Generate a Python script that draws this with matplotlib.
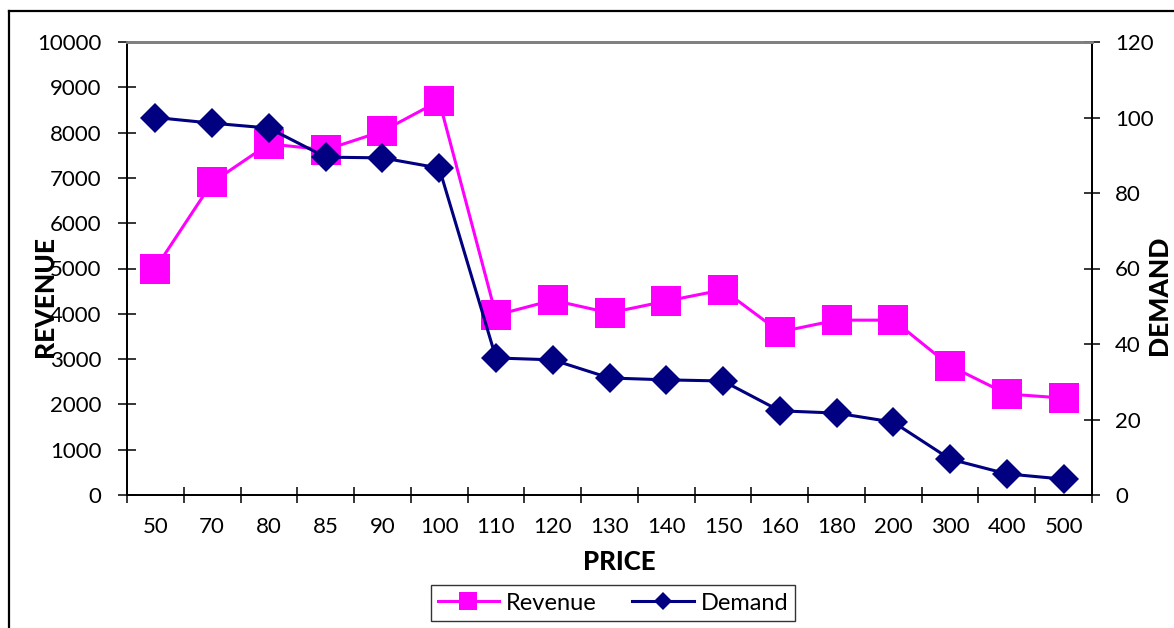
import matplotlib
matplotlib.use("Agg")
import matplotlib.pyplot as plt
from matplotlib.lines import Line2D
from matplotlib.ticker import FixedLocator, NullFormatter

plt.rcParams['font.family'] = ['Lato', 'DejaVu Sans']

prices = ["50", "70", "80", "85", "90", "100", "110", "120", "130", "140",
          "150", "160", "180", "200", "300", "400", "500"]
revenue = [5000, 6900, 7750, 7620, 8030, 8700, 3970, 4300, 4020, 4280,
           4530, 3600, 3860, 3860, 2850, 2230, 2140]
demand = [100, 98.5, 97.2, 89.5, 89.3, 86.6, 36.3, 35.8, 31, 30.5,
          30.2, 22.3, 21.7, 19.3, 9.5, 5.6, 4.2]

REV_COLOR = "#FF00FF"
DEM_COLOR = "#000080"

W, H = 1174, 628
fig = plt.figure(figsize=(W / 100, H / 100), dpi=100)

# outer chart frame (open at right and bottom)
fig.add_artist(Line2D([9 / W, 9 / W], [0, 1 - 11 / H], transform=fig.transFigure,
                      color="black", lw=1.6))
fig.add_artist(Line2D([9 / W, 1], [1 - 11 / H, 1 - 11 / H], transform=fig.transFigure,
                      color="black", lw=1.6))

left, right, bottom, top = 127 / W, 1092 / W, 1 - 495 / H, 1 - 42 / H
ax = fig.add_axes([left, bottom, right - left, top - bottom])
ax2 = ax.twinx()

x = list(range(len(prices)))
ax.plot(x, revenue, color=REV_COLOR, lw=2.2, marker="s", ms=21.5,
        markeredgewidth=0, label="Revenue")
ax2.plot(x, demand, color=DEM_COLOR, lw=2.2, marker="D", ms=15,
         markeredgewidth=0, label="Demand")

ax.set_xlim(-0.5, len(prices) - 0.5)
ax.set_ylim(0, 10000)
ax2.set_ylim(0, 120)

# category labels centred, tick marks on category boundaries
ax.set_xticks(x)
ax.set_xticklabels(prices)
ax.xaxis.set_minor_locator(FixedLocator([i - 0.5 for i in range(len(prices) + 1)]))
ax.xaxis.set_minor_formatter(NullFormatter())
ax.tick_params(axis="x", which="major", length=0, pad=16, labelsize=16)
ax.tick_params(axis="x", which="minor", direction="inout", length=12, width=1.1)

ax.set_yticks(range(0, 10001, 1000))
ax.tick_params(axis="y", direction="inout", length=13, width=1.1, pad=12,
               labelsize=16)
ax2.set_yticks(range(0, 121, 20))
ax2.tick_params(axis="y", direction="inout", length=11, width=1.1, pad=11,
                labelsize=16)

for a in (ax, ax2):
    for s in ("left", "bottom", "right"):
        a.spines[s].set_color("black")
        a.spines[s].set_linewidth(1.3)
    a.spines["top"].set_color("#808080")
    a.spines["top"].set_linewidth(2)

fig.text(619 / W, 1 - 562 / H, "PRICE", ha="center", va="center",
         fontsize=18.5, fontweight="black")
fig.text(45 / W, 1 - 297 / H, "REVENUE", ha="center", va="center",
         rotation=90, fontsize=19, fontweight="black")
fig.text(1159 / W, 1 - 295 / H, "DEMAND", ha="center", va="center",
         rotation=90, fontsize=19, fontweight="black")

handles = [
    Line2D([], [], color=REV_COLOR, lw=2.2, marker="s", ms=12.5, markeredgewidth=0),
    Line2D([], [], color=DEM_COLOR, lw=2.2, marker="D", ms=9, markeredgewidth=0),
]
leg = fig.legend(handles, ["Revenue", "Demand"], loc="center",
                 bbox_to_anchor=(613 / W, 1 - 603 / H), ncol=2, fontsize=17,
                 frameon=True, fancybox=False, edgecolor="black",
                 handlelength=2.6, columnspacing=1.5, handletextpad=0.3,
                 borderpad=0.3, borderaxespad=0)
leg.get_frame().set_linewidth(1.0)

fig.savefig("out.png", dpi=100)
